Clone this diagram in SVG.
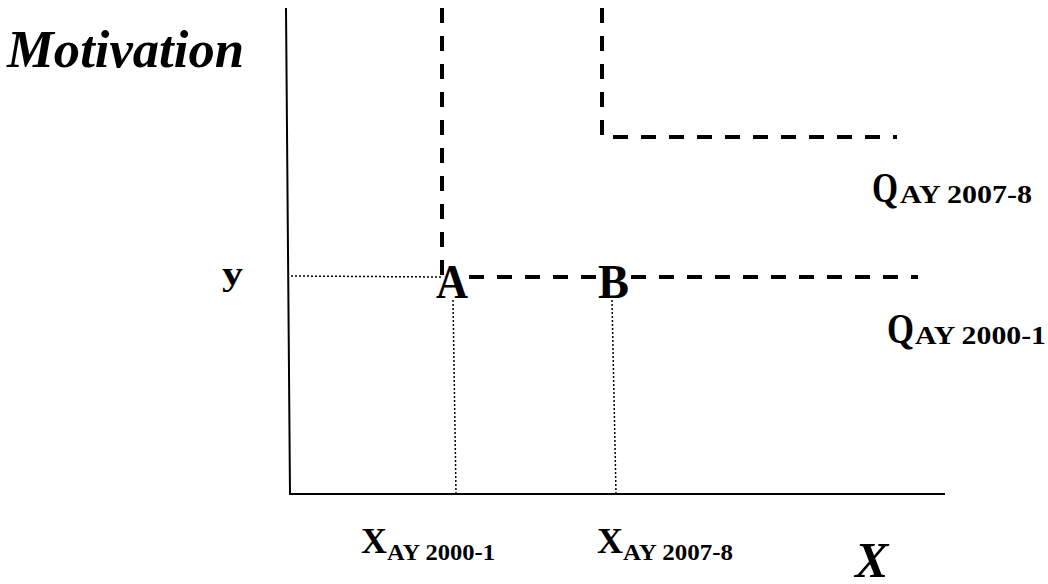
<svg xmlns="http://www.w3.org/2000/svg" width="1048" height="584" viewBox="0 0 1048 584">
<style>
.axis{stroke:#000;stroke-width:2;fill:none}
.dash{stroke:#000;stroke-width:4;fill:none;stroke-dasharray:15 13}
.dot{stroke:#000;stroke-width:1.5;fill:none;stroke-dasharray:2 2}
text{font-family:"Liberation Serif","Times New Roman",serif;font-weight:bold;fill:#000}
.it{font-style:italic}
</style>
<rect width="1048" height="584" fill="#fff"/>
<g id="axes">
<path class="axis" d="M286,8 L290,494 L945,494"/>
</g>
<g id="connectors">
<path class="dash" d="M442,8 V277"/>
<path class="dash" d="M469,277 H597"/>
<path class="dash" d="M631,277 H918"/>
<path class="dash" d="M602,8 V137 H897"/>
<path class="dot" d="M291,276 L441,277"/>
<path class="dot" d="M453,300 L456,494"/>
<path class="dot" d="M612,300 L616,494"/>
</g>
<g id="label-motivation"><text class="it" x="7" y="67" font-size="53" textLength="237" lengthAdjust="spacingAndGlyphs">Motivation</text></g>
<g id="label-y"><text x="222" y="285" font-size="33" textLength="21" lengthAdjust="spacingAndGlyphs">y</text></g>
<g id="node-A"><text x="436" y="298" font-size="48" textLength="32" lengthAdjust="spacingAndGlyphs">A</text></g>
<g id="node-B"><text x="598" y="298" font-size="48" textLength="31" lengthAdjust="spacingAndGlyphs">B</text></g>
<g id="label-q2007"><text x="872" y="202" font-size="42" textLength="26" lengthAdjust="spacingAndGlyphs">Q</text><text x="900" y="203" font-size="25" textLength="132" lengthAdjust="spacingAndGlyphs">AY 2007-8</text></g>
<g id="label-q2000"><text x="887" y="343" font-size="42" textLength="27" lengthAdjust="spacingAndGlyphs">Q</text><text x="915" y="344" font-size="25" textLength="131" lengthAdjust="spacingAndGlyphs">AY 2000-1</text></g>
<g id="label-x2000"><text x="361" y="553" font-size="35" textLength="26" lengthAdjust="spacingAndGlyphs">X</text><text x="387" y="560" font-size="24" textLength="108" lengthAdjust="spacingAndGlyphs">AY 2000-1</text></g>
<g id="label-x2007"><text x="597" y="553" font-size="35" textLength="26" lengthAdjust="spacingAndGlyphs">X</text><text x="623" y="560" font-size="24" textLength="110" lengthAdjust="spacingAndGlyphs">AY 2007-8</text></g>
<g id="label-x"><text class="it" x="855" y="577" font-size="50">X</text></g>
</svg>
